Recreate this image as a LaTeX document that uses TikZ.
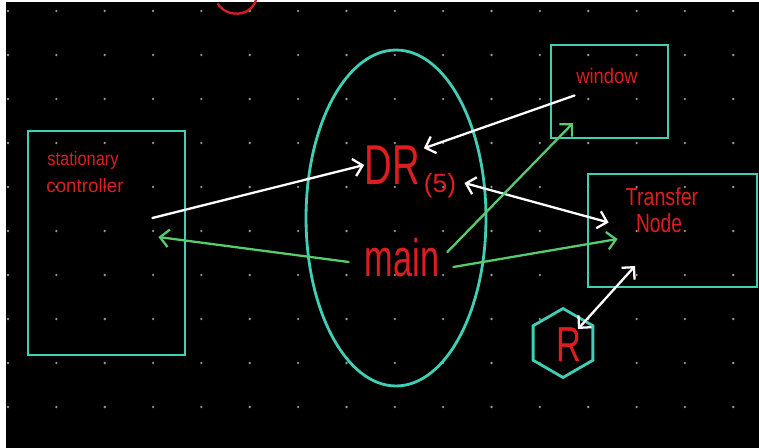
\documentclass[tikz,border=0pt]{standalone}
\usepackage{fontspec}
\setmainfont{Liberation Sans}
\usetikzlibrary{arrows.meta,shapes.geometric}

\definecolor{acqua}{RGB}{64,206,180}
\definecolor{verde}{RGB}{86,204,110}
\definecolor{rosso}{RGB}{222,30,30}
\definecolor{puntino}{RGB}{150,150,150}

\begin{document}
\begin{tikzpicture}[x=0.02cm, y=-0.02cm,
		>={Straight Barb[length=5pt,width=10pt]},
		scatola/.style={draw=acqua, line width=1.6pt, inner sep=0pt},
		scritta/.style={text=rosso, inner sep=0pt},
		frecciaB/.style={line width=1.3pt, line cap=round, white},
		frecciaV/.style={line width=1.3pt, line cap=round, verde}]
	
	\useasboundingbox (0,0) rectangle (759,448);
	
	%% sfondo: lavagna nera con griglia di puntini
	\fill[white] (0,0) rectangle (759,448);
	\fill[black] (6,2) rectangle (759,448);
	\foreach \i in {0,...,15}{
		\foreach \j in {0,...,9}{
			\fill[puntino] ({8+48.35*\i},{11+44*\j}) circle (1.3);
		}
	}
	
	%% resto di una scritta tagliata in alto
	\draw[rosso, line width=1.3pt, line cap=round]
		(218,4) .. controls (226,17) and (250,18) .. (256,0);
	
	%% controller a sinistra
	\node[scatola, minimum width=3.14cm, minimum height=4.48cm] (ctrl) at (106.5,243) {};
	\node[scritta, font=\fontsize{11}{11}\selectfont, xscale=0.85] (ctrlA) at (83,161) {stationary};
	\node[scritta, font=\fontsize{11}{11}\selectfont, xscale=0.97] (ctrlB) at (85,186) {controller};
	
	%% processo centrale (ellisse)
	\node[scatola, ellipse, minimum width=3.6cm, minimum height=6.72cm] (proc) at (396,218) {};
	\node[scritta, font=\fontsize{32}{32}\selectfont, xscale=0.68] (dr) at (392,165) {DR};
	\node[scritta, font=\fontsize{15}{15}\selectfont] (drs) at (440,186) {(5)};
	\node[scritta, font=\fontsize{30}{30}\selectfont, xscale=0.65] (main) at (402,258) {main};
	
	%% window e transfer node
	\node[scatola, minimum width=2.34cm, minimum height=1.86cm] (win) at (609.5,91.5) {};
	\node[scritta, font=\fontsize{12}{12}\selectfont, xscale=0.87] (winT) at (607,76) {window};
	\node[scatola, minimum width=3.38cm, minimum height=2.26cm] (tn) at (672.5,230.5) {};
	\node[scritta, font=\fontsize{14}{14}\selectfont, xscale=0.8] (tnA) at (662,197) {Transfer};
	\node[scritta, font=\fontsize{15}{15}\selectfont, xscale=0.73] (tnB) at (659,223) {Node};
	
	%% esagono R
	\node[scatola, regular polygon, regular polygon sides=6, shape border rotate=30,
		minimum size=1.38cm] (hexR) at (563,343) {};
	\node[scritta, font=\fontsize{28}{28}\selectfont, xscale=0.7] (hexT) at (569,345) {R};
	
	%% frecce bianche
	\draw[frecciaB, ->] ([shift={(-34,-25)}]ctrl.east) -- (dr.west);
	\draw[frecciaB, ->] ([shift={(-35,4)}]win.center) -- ([shift={(4,3)}]dr.north east);
	\draw[frecciaB, <->] ([shift={(8,-3)}]drs.east) -- ([shift={(22,-8)}]tn.west);
	\draw[frecciaB, <->] ([shift={(15,-14)}]hexR.center) -- ([shift={(-37.5,35.5)}]tn.center);
	
	%% frecce verdi da main
	\draw[frecciaV, ->] ([shift={(-16,4)}]main.west) -- ([shift={(-28,-6)}]ctrl.east);
	\draw[frecciaV, ->] ([shift={(8,-6)}]main.east) -- ([shift={(-36.5,31.5)}]win.center);
	\draw[frecciaV, ->] ([shift={(14,9)}]main.east) -- ([shift={(31,8.5)}]tn.west);
	
\end{tikzpicture}
\end{document}
